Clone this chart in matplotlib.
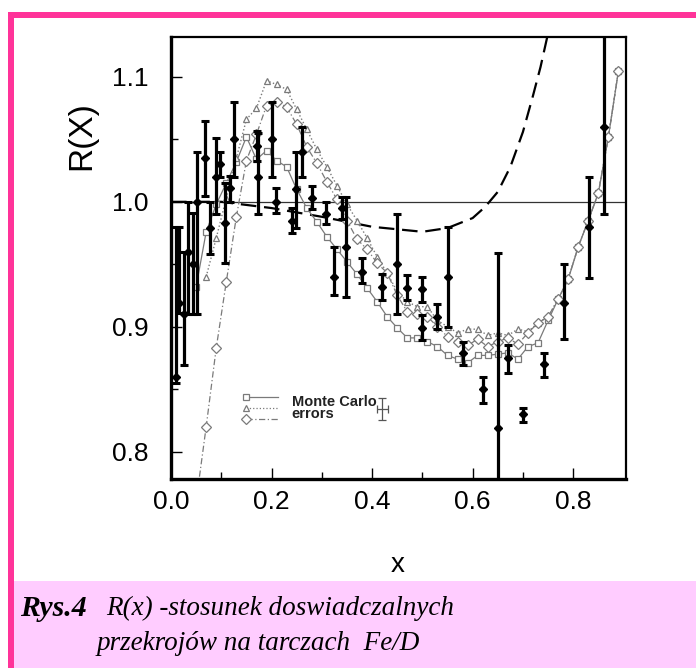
import numpy as np
import matplotlib
matplotlib.use("Agg")
import matplotlib.pyplot as plt
from matplotlib.patches import Rectangle

plt.rcParams['font.family'] = ['Liberation Sans', 'DejaVu Sans']

# model curves, sampled on the same x grid
x_model = [0.05, 0.07, 0.09, 0.11, 0.13, 0.15, 0.17, 0.19, 0.21, 0.23, 0.25,
           0.27, 0.29, 0.31, 0.33, 0.35, 0.37, 0.39, 0.41, 0.43, 0.45, 0.47,
           0.49, 0.51, 0.53, 0.55, 0.57, 0.59, 0.61, 0.63, 0.65, 0.67, 0.69,
           0.71, 0.73, 0.75, 0.77, 0.79, 0.81, 0.83, 0.85, 0.87, 0.89]
r_square = [0.932, 0.976, 0.998, 1.015, 1.032, 1.052, 1.034, 1.041, 1.033,
            1.028, 1.010, 0.995, 0.984, 0.972, 0.962, 0.952, 0.942, 0.931,
            0.920, 0.908, 0.899, 0.891, 0.891, 0.888, 0.884, 0.877, 0.874,
            0.871, 0.877, 0.877, 0.878, 0.879, 0.874, 0.884, 0.887, 0.905,
            0.922, 0.938, 0.964, 0.985, 1.007, 1.052, 1.105]
r_triangle = [0.940, 0.971, 1.003, 1.035, 1.066, 1.075, 1.097, 1.094, 1.090,
              1.074, 1.058, 1.042, 1.028, 1.013, 0.998, 0.985, 0.971, 0.956,
              0.943, 0.928, 0.920, 0.916, 0.916, 0.905, 0.900, 0.895, 0.898,
              0.898, 0.893, 0.895, 0.893, 0.898, 0.896, 0.903, 0.908, 0.922,
              0.938, 0.964, 0.985, 1.007, 1.052, 1.105]
r_diamond = [0.760, 0.820, 0.883, 0.936, 0.988, 1.033, 1.054, 1.077, 1.080,
             1.076, 1.062, 1.044, 1.031, 1.016, 1.002, 0.985, 0.970, 0.962,
             0.951, 0.943, 0.925, 0.912, 0.910, 0.908, 0.900, 0.892, 0.888,
             0.885, 0.890, 0.884, 0.888, 0.891, 0.886, 0.895, 0.903, 0.908,
             0.922, 0.938, 0.964, 0.985, 1.007, 1.052, 1.105]

# long-dashed curve
x_dash = [0.0, 0.1, 0.2, 0.3, 0.4, 0.45, 0.5, 0.55, 0.6, 0.625, 0.65, 0.675,
          0.7, 0.72, 0.735, 0.75]
r_dash = [1.0, 1.0, 0.995, 0.988, 0.980, 0.978, 0.976, 0.979, 0.987, 0.996,
          1.008, 1.028, 1.056, 1.085, 1.108, 1.135]

# measured points
x_data = [0.009, 0.016, 0.025, 0.034, 0.043, 0.052, 0.068, 0.078, 0.089,
          0.098, 0.108, 0.118, 0.125, 0.172, 0.174, 0.201, 0.208, 0.240,
          0.249, 0.261, 0.281, 0.309, 0.324, 0.341, 0.349, 0.379, 0.419,
          0.450, 0.470, 0.500, 0.500, 0.530, 0.551, 0.580, 0.621, 0.650,
          0.670, 0.701, 0.741, 0.781, 0.831, 0.861]
r_data = [0.860, 0.919, 0.910, 0.960, 0.950, 1.000, 1.035, 0.979, 1.020,
          1.030, 0.983, 1.011, 1.050, 1.045, 1.020, 1.050, 1.000, 0.985,
          1.010, 1.040, 1.003, 0.990, 0.940, 0.995, 0.964, 0.944, 0.932,
          0.950, 0.931, 0.930, 0.899, 0.908, 0.940, 0.879, 0.850, 0.819,
          0.875, 0.830, 0.870, 0.919, 0.980, 1.060]
err_lo = [0.005, 0.008, 0.041, 0.050, 0.040, 0.090, 0.030, 0.021, 0.030,
          0.010, 0.032, 0.011, 0.030, 0.012, 0.030, 0.030, 0.009, 0.010,
          0.031, 0.020, 0.009, 0.008, 0.015, 0.009, 0.040, 0.009, 0.011,
          0.040, 0.010, 0.010, 0.010, 0.010, 0.040, 0.010, 0.011, 0.140,
          0.012, 0.006, 0.010, 0.029, 0.041, 0.070]
err_hi = [0.120, 0.061, 0.050, 0.040, 0.041, 0.040, 0.030, 0.021, 0.031,
          0.010, 0.032, 0.010, 0.030, 0.012, 0.035, 0.030, 0.011, 0.010,
          0.030, 0.020, 0.010, 0.010, 0.024, 0.009, 0.040, 0.011, 0.010,
          0.040, 0.010, 0.010, 0.010, 0.010, 0.040, 0.009, 0.010, 0.140,
          0.010, 0.005, 0.009, 0.031, 0.040, 0.075]

x_ticks = [0.0, 0.2, 0.4, 0.6, 0.8]
x_ticklabels = ['0.0', '0.2', '0.4', '0.6', '0.8']
y_ticks = [0.8, 0.9, 1.0, 1.1]
y_ticklabels = ['0.8', '0.9', '1.0', '1.1']

fig = plt.figure(figsize=(6.96, 6.68), dpi=100)

# pink frame and caption strip
fig.patches.append(Rectangle((14 / 696, 0), 682 / 696, 87 / 668,
                             transform=fig.transFigure, facecolor='#ffccff',
                             edgecolor='none', zorder=0))
fig.patches.append(Rectangle((8 / 696, 0), 6 / 696, 656 / 668,
                             transform=fig.transFigure, facecolor='#ff3399',
                             edgecolor='none', zorder=1))
fig.patches.append(Rectangle((8 / 696, 650 / 668), 688 / 696, 6 / 668,
                             transform=fig.transFigure, facecolor='#ff3399',
                             edgecolor='none', zorder=1))

ax = fig.add_axes([171 / 696, 1 - 479 / 668, 455 / 696, 442 / 668])

grey = '#7a7a7a'
ax.axhline(1.0, color='#333333', lw=0.9, zorder=1)
ax.plot(x_dash, r_dash, color='black', lw=1.6, dashes=(7, 3.5), zorder=2)
ax.plot(x_model, r_square, color=grey, lw=0.9, marker='s', ms=4.8,
        mfc='white', mec=grey, mew=0.9, zorder=3)
ax.plot(x_model[1:], r_triangle, color=grey, lw=1.0, ls=':', marker='^',
        ms=5.0, mfc='white', mec=grey, mew=0.9, zorder=3)
ax.plot(x_model, r_diamond, color=grey, lw=0.9, dashes=(5, 2, 1, 2),
        marker='D', ms=4.6, mfc='white', mec=grey, mew=0.9, zorder=3)

ax.errorbar(x_data, r_data, yerr=[err_lo, err_hi], fmt='D', color='black',
            ms=4.5, elinewidth=2.3, capsize=3, capthick=2.2, zorder=5)

# legend
lx, ly = 0.165, [0.185, 0.160, 0.135]
styles = [dict(marker='s', ls='-'), dict(marker='^', ls=':'),
          dict(marker='D', dashes=(5, 2, 1, 2))]
for yy, st in zip(ly, styles):
    ax.plot([lx, lx + 0.07], [yy, yy], transform=ax.transAxes, color=grey,
            lw=0.9, ms=4.6, mfc='white', mec=grey, mew=0.9, markevery=[0],
            clip_on=False, **st)
ax.text(0.265, 0.160, 'Monte Carlo\nerrors', transform=ax.transAxes,
        fontsize=10.5, fontweight='bold', va='center', ha='left',
        linespacing=0.85, color='#222222')
ax.errorbar([0.464], [0.158], xerr=[0.012], yerr=[0.025],
            transform=ax.transAxes, fmt='none', color='#555555', lw=0.9,
            capsize=3, capthick=0.9)

ax.set_xlim(0.0, 0.905)
ax.set_ylim(0.778, 1.132)
ax.set_xticks(x_ticks)
ax.set_xticklabels(x_ticklabels)
ax.set_xticks([0.1, 0.3, 0.5, 0.7], minor=True)
ax.set_yticks(y_ticks)
ax.set_yticklabels(y_ticklabels)
ax.set_yticks([0.85, 0.95, 1.05], minor=True)
ax.tick_params(which='both', direction='in', top=False, right=False,
               width=1.0, labelsize=19)
ax.tick_params(which='major', length=8)
ax.tick_params(which='minor', length=5)
ax.tick_params(axis='x', pad=8)
ax.tick_params(axis='y', pad=16)
for sp in ax.spines.values():
    sp.set_linewidth(1.6)
ax.spines['bottom'].set_linewidth(2.4)
ax.spines['left'].set_linewidth(2.4)

fig.text(398 / 696, 1 - 565 / 668, 'x', fontsize=20, ha='center', va='center')
fig.text(82 / 696, 1 - 136 / 668, 'R(X)', fontsize=24, rotation=90,
         ha='center', va='center')

# caption
fig.text(20 / 696, 1 - 608 / 668, 'Rys.4', family='Liberation Serif',
         style='italic', fontweight='bold', fontsize=21.5, va='center')
fig.text(106 / 696, 1 - 608 / 668, 'R(x) -stosunek doswiadczalnych',
         family='Liberation Serif', style='italic', fontsize=19.5, va='center')
fig.text(97 / 696, 1 - 643 / 668, 'przekrojów na tarczach  Fe/D',
         family='Liberation Serif', style='italic', fontsize=19.5, va='center')

fig.savefig('out.png', dpi=100)
